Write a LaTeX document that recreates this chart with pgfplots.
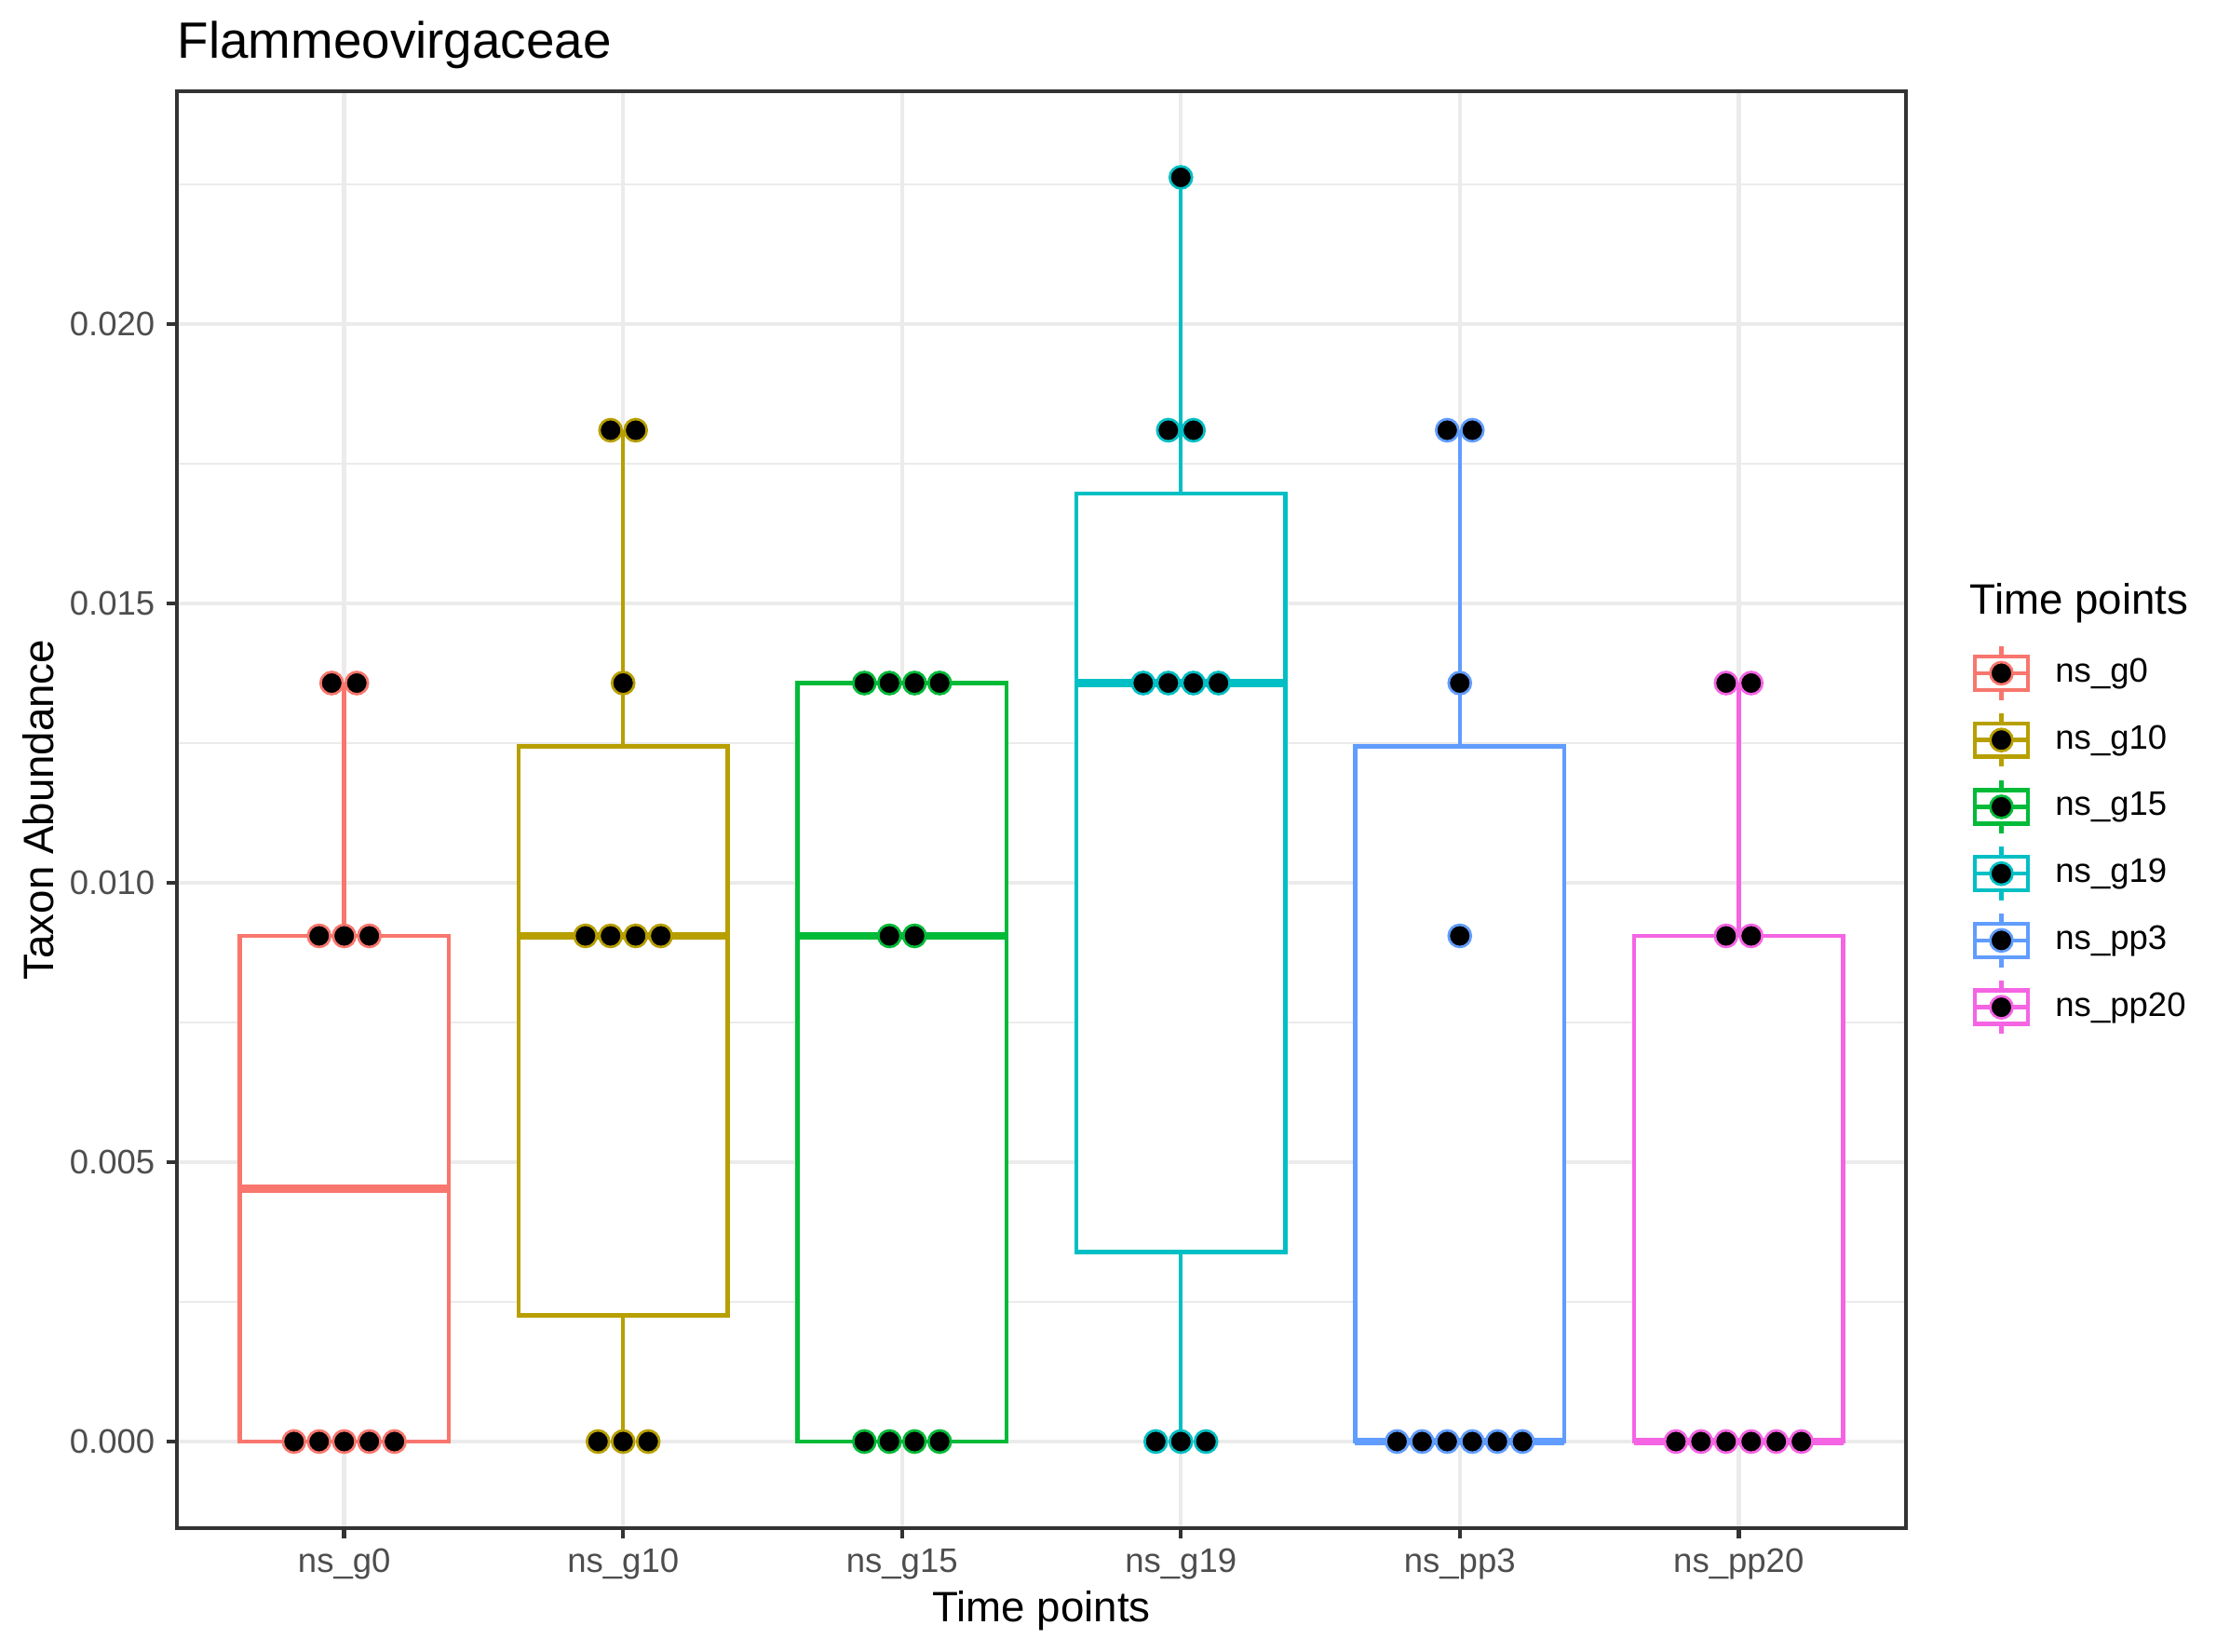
\documentclass[border=0pt]{standalone}
\usepackage{fontspec}
\setmainfont{Liberation Sans}
\usepackage{pgfplots}
\pgfplotsset{compat=1.18}
\definecolor{c0}{HTML}{F8766D}
\definecolor{c1}{HTML}{B79F00}
\definecolor{c2}{HTML}{00BA38}
\definecolor{c3}{HTML}{00BFC4}
\definecolor{c4}{HTML}{619CFF}
\definecolor{c5}{HTML}{F564E3}
\definecolor{gridc}{HTML}{EBEBEB}
\definecolor{gray20}{HTML}{333333}
\definecolor{gray30}{HTML}{4D4D4D}
\newcommand{\ggkey}[1]{%
 \addlegendimage{legend image code/.code={%
  \path[draw=none, fill=none] (0pt,-8.64pt) rectangle (17.28pt,8.64pt);
  \draw[#1, line width=1.07pt] (8.64pt,4.32pt) -- (8.64pt,6.912pt);
  \draw[#1, line width=1.07pt] (8.64pt,-4.32pt) -- (8.64pt,-6.912pt);
  \draw[#1, line width=1.07pt, fill=white] (1.728pt,-4.32pt) rectangle (15.552pt,4.32pt);
  \draw[#1, line width=1.07pt] (1.728pt,0pt) -- (15.552pt,0pt);
  \filldraw[fill=black, draw=#1, line width=0.65bp] (8.64pt,0pt) circle (2.87bp);
 }}}
% \ggbox{color}{left}{centre}{right}{lower whisker}{Q1}{median}{Q3}{upper whisker}
\newcommand{\ggbox}[9]{%
 \addplot[forget plot, draw=#1, line width=1.07pt] coordinates {(#3,#5) (#3,#6)};
 \addplot[forget plot, draw=#1, line width=1.07pt] coordinates {(#3,#8) (#3,#9)};
 \addplot[forget plot, draw=#1, fill=white, line width=1.07pt] coordinates {(#2,#6) (#4,#6) (#4,#8) (#2,#8)} -- cycle;
 \addplot[forget plot, draw=#1, line width=2.13pt] coordinates {(#2,#7) (#4,#7)};}
\pgfplotsset{ggpts/.style={forget plot, only marks, mark=*, mark size=2.87bp,
  mark options={fill=black, draw=#1, line width=0.65bp}}}
\begin{document}
\begin{tikzpicture}
\path[use as bounding box] (-45.6bp,-31.92bp) rectangle (529.2bp,393.84bp);
\begin{axis}[
  at={(0,0)}, anchor=south west,
  scale only axis, width=445.68bp, height=370.32bp,
  clip=false,
  xmin=-0.6, xmax=5.6,
  ymin=-0.00155, ymax=0.024167,
  xtick={0,1,2,3,4,5},
  xticklabels={ns\_g0,ns\_g10,ns\_g15,ns\_g19,ns\_pp3,ns\_pp20},
  ytick={0,0.005,0.010,0.015,0.020},
  minor ytick={0.0025,0.0075,0.0125,0.0175,0.0225},
  scaled y ticks=false,
  /pgf/number format/assume math mode=true,
  yticklabel style={/pgf/number format/fixed, /pgf/number format/fixed zerofill, /pgf/number format/precision=3},
  xmajorgrids=true, ymajorgrids=true, yminorgrids=true,
  major grid style={color=gridc, line width=1.07pt},
  minor grid style={color=gridc, line width=0.53pt},
  minor tick length=0pt,
  tick align=outside, tick pos=left,
  major tick length=2.75pt,
  tick style={color=gray20, line width=1.07pt},
  axis line style={color=gray20, line width=1.07pt},
  ticklabel style={font=\fontsize{8.8}{10}\selectfont, text=gray30},
  xticklabel style={anchor=base, inner sep=0pt, yshift=-8.76bp},
  yticklabel style={anchor=east, inner sep=0pt, xshift=-2.76bp},
  legend cell align=left,
  legend style={at={(1.03588,0.61819)}, anchor=north west, draw=none, fill=none,
    inner sep=0pt, outer sep=0pt, row sep=0pt,
    nodes={inner sep=0pt, outer sep=0pt, font=\fontsize{8.8}{10.56}\selectfont},
    /tikz/every odd column/.append style={column sep=5.3bp}},
]
\ggbox{c0}{-0.375}{0}{0.375}{0}{0}{0.004525}{0.00905}{0.013575}
\ggbox{c1}{0.625}{1}{1.375}{0}{0.00226}{0.00905}{0.01244}{0.0181}
\ggbox{c2}{1.625}{2}{2.375}{0}{0}{0.00905}{0.013575}{0.013575}
\ggbox{c3}{2.625}{3}{3.375}{0}{0.00339}{0.013575}{0.01697}{0.022625}
\ggbox{c4}{3.625}{4}{4.375}{0}{0}{0}{0.01244}{0.0181}
\ggbox{c5}{4.625}{5}{5.375}{0}{0}{0}{0.00905}{0.013575}

\addplot[ggpts=c0] coordinates {
 (-0.18,0) (-0.09,0) (0,0) (0.09,0) (0.18,0)
 (-0.09,0.00905) (0,0.00905) (0.09,0.00905)
 (-0.045,0.013575) (0.045,0.013575)};
\addplot[ggpts=c1] coordinates {
 (0.91,0) (1,0) (1.09,0)
 (0.865,0.00905) (0.955,0.00905) (1.045,0.00905) (1.135,0.00905)
 (1,0.013575)
 (0.955,0.0181) (1.045,0.0181)};
\addplot[ggpts=c2] coordinates {
 (1.865,0) (1.955,0) (2.045,0) (2.135,0)
 (1.955,0.00905) (2.045,0.00905)
 (1.865,0.013575) (1.955,0.013575) (2.045,0.013575) (2.135,0.013575)};
\addplot[ggpts=c3] coordinates {
 (2.91,0) (3,0) (3.09,0)
 (2.865,0.013575) (2.955,0.013575) (3.045,0.013575) (3.135,0.013575)
 (2.955,0.0181) (3.045,0.0181)
 (3,0.022625)};
\addplot[ggpts=c4] coordinates {
 (3.775,0) (3.865,0) (3.955,0) (4.045,0) (4.135,0) (4.225,0)
 (4,0.00905)
 (4,0.013575)
 (3.955,0.0181) (4.045,0.0181)};
\addplot[ggpts=c5] coordinates {
 (4.775,0) (4.865,0) (4.955,0) (5.045,0) (5.135,0) (5.225,0)
 (4.955,0.00905) (5.045,0.00905)
 (4.955,0.013575) (5.045,0.013575)};

\ggkey{c0}\addlegendentry{ns\_g0}
\ggkey{c1}\addlegendentry{ns\_g10}
\ggkey{c2}\addlegendentry{ns\_g15}
\ggkey{c3}\addlegendentry{ns\_g19}
\ggkey{c4}\addlegendentry{ns\_pp3}
\ggkey{c5}\addlegendentry{ns\_pp20}

\node[anchor=base west, inner sep=0pt, font=\fontsize{13.2}{15}\selectfont]
  at ([yshift=8.4bp]rel axis cs:0,1) {Flammeovirgaceae};
\node[anchor=base, inner sep=0pt, font=\fontsize{11}{13}\selectfont]
  at ([yshift=-24bp]rel axis cs:0.5,0) {Time points};
\node[anchor=base, rotate=90, inner sep=0pt, font=\fontsize{11}{13}\selectfont]
  at ([xshift=-31.92bp]rel axis cs:0,0.5) {Taxon Abundance};
\node[anchor=base west, inner sep=0pt, font=\fontsize{11}{13}\selectfont]
  at ([xshift=16.32bp,yshift=235.44bp]rel axis cs:1,0) {Time points};
\end{axis}
\end{tikzpicture}
\end{document}
